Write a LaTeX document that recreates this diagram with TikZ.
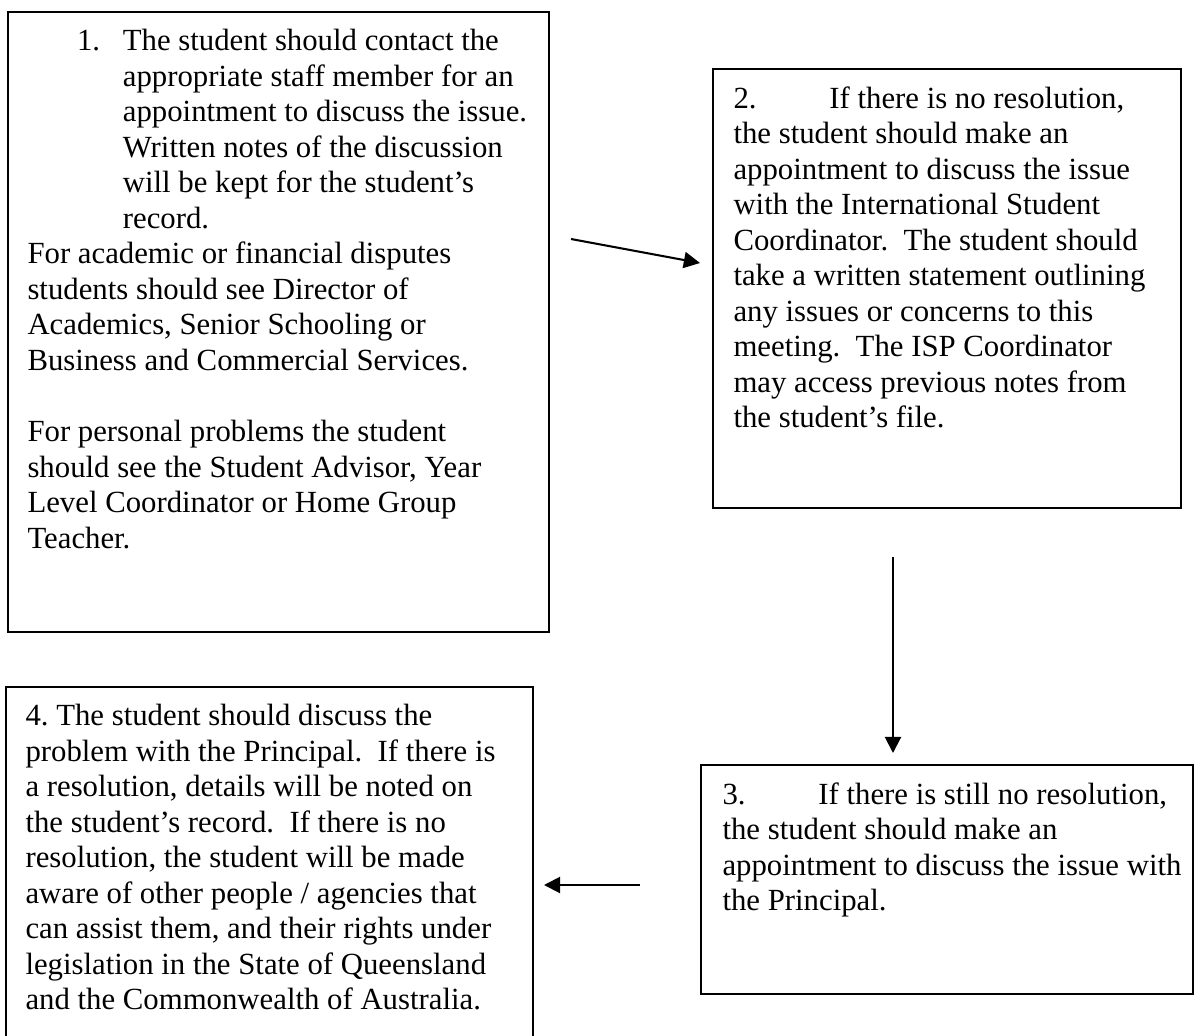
\documentclass[tikz,border=0pt]{standalone}
\usepackage{fontspec}
\setmainfont{Liberation Serif}
\usetikzlibrary{arrows.meta}

\newcommand{\pxunit}{0.39pt}

\tikzset{
  stepbox/.style={draw, line width=0.6pt, anchor=north west, inner sep=0pt},
  steptext/.style={anchor=north west, inner sep=0pt, align=left,
    font=\fontsize{12}{13.85}\selectfont},
  flowarrow/.style={line width=0.8pt, -{Triangle[length=6.3pt,width=6.3pt]}}
}

\begin{document}
\begin{tikzpicture}[x=\pxunit, y=-\pxunit]
				\useasboundingbox (0,0) rectangle (1195,1036);
				\clip (0,0) rectangle (1195,1036);
				
				% Step 1 box
				\node[stepbox, minimum width={541*\pxunit}, minimum height={620*\pxunit}] (box1) at (7,11) {};
				\node[steptext] (text1) at ([shift={(20,18)}]box1.north west) {%
					\hspace*{19.3pt}\makebox[17.9pt][l]{1.}The student should contact the\\
					\hspace*{37.2pt}appropriate staff member for an\\
					\hspace*{37.2pt}appointment to discuss the issue.\\
					\hspace*{37.2pt}Written notes of the discussion\\
					\hspace*{37.2pt}will be kept for the student's\\
					\hspace*{37.2pt}record.\\
					For academic or financial disputes\\
					students should see Director of\\
					Academics, Senior Schooling or\\
					Business and Commercial Services.\\[13.85pt]
					For personal problems the student\\
					should see the Student Advisor, Year\\
					Level Coordinator or Home Group\\
					Teacher.};
				
				% Step 2 box
				\node[stepbox, minimum width={468*\pxunit}, minimum height={439*\pxunit}] (box2) at (712,68) {};
				\node[steptext] (text2) at ([shift={(21,18)}]box2.north west) {%
					\makebox[37.4pt][l]{2.}If there is no resolution,\\
					the student should make an\\
					appointment to discuss the issue\\
					with the International Student\\
					Coordinator.\ \ The student should\\
					take a written statement outlining\\
					any issues or concerns to this\\
					meeting.\ \ The ISP Coordinator\\
					may access previous notes from\\
					the student's file.};
				
				% Step 3 box
				\node[stepbox, minimum width={492*\pxunit}, minimum height={229*\pxunit}] (box3) at (700,764) {};
				\node[steptext] (text3) at ([shift={(22,18)}]box3.north west) {%
					\makebox[37.4pt][l]{3.}If there is still no resolution,\\
					the student should make an\\
					appointment to discuss the issue with\\
					the Principal.};
				
				% Step 4 box (runs past the bottom edge)
				\node[stepbox, minimum width={527*\pxunit}, minimum height={360*\pxunit}] (box4) at (5,686) {};
				\node[steptext] (text4) at ([shift={(20,18)}]box4.north west) {%
					4.\ The student should discuss the\\
					problem with the Principal.\ \ If there is\\
					a resolution, details will be noted on\\
					the student's record.\ \ If there is no\\
					resolution, the student will be made\\
					aware of other people / agencies that\\
					can assist them, and their rights under\\
					legislation in the State of Queensland\\
					and the Commonwealth of Australia.};
				
				% Arrow ends
				\coordinate (from1) at (571,239);
				\coordinate (to2) at (700,263);
				\coordinate (from2) at (893,557);
				\coordinate (to3) at (893,753);
				\coordinate (from3) at (640,885);
				\coordinate (to4) at (544,885);
				
				% Arrows
				\draw[flowarrow] (from1) -- (to2);
				\draw[flowarrow] (from2) -- (to3);
				\draw[flowarrow] (from3) -- (to4);
\end{tikzpicture}
\end{document}
